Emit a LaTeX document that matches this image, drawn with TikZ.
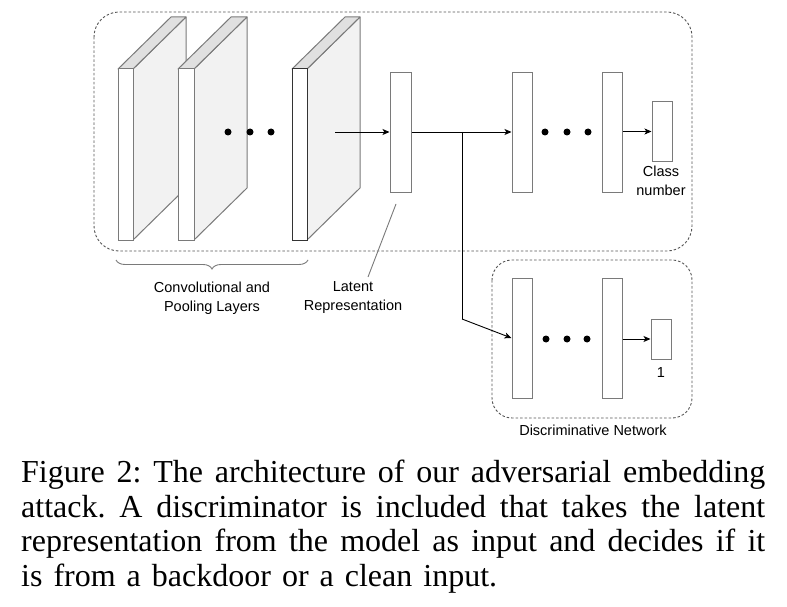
\documentclass[tikz,border=0pt]{standalone}
\usepackage{fontspec}
\setmainfont{Liberation Serif}
\newfontfamily\diagfont{Liberation Sans}
\usetikzlibrary{arrows.meta,decorations.pathreplacing}
\definecolor{boxgray}{HTML}{7A7A7A}
\definecolor{topgray}{HTML}{E0E0E0}
\definecolor{sidegray}{HTML}{F2F2F2}
\definecolor{dashgray}{HTML}{555555}
\tikzset{
  layerbox/.style={draw=boxgray, fill=white, line width=1pt, inner sep=0pt, rectangle},
  sideface/.style={draw=boxgray, fill=sidegray, line width=1pt, line join=round},
  topface/.style={draw=boxgray, fill=topgray, line width=1pt, line join=round},
  conn/.style={draw=black, line width=0.9pt, -{Stealth[length=7pt,width=6pt,inset=1.8pt]}},
  plainline/.style={draw=black, line width=0.9pt},
  group/.style={draw=dashgray, line width=0.9pt, dash pattern=on 2.5pt off 2pt},
  dot/.style={circle, fill=black, inner sep=0pt, minimum size=7pt},
  lbl/.style={font=\diagfont\fontsize{14.5}{18}\selectfont, align=center, inner sep=0pt},
}
\begin{document}
\begin{tikzpicture}[x=1pt,y=-1pt]
\useasboundingbox[fill=white] (0,0) rectangle (787,607);

% group boxes
\draw[group, rounded corners=25pt] (94,12) rectangle (692,251);
\draw[group, rounded corners=20pt] (492,260) rectangle (692,418);

% plate 1
\draw[sideface] (133,69) -- (186,17) -- (186,188) -- (133,240) -- cycle;
\draw[topface] (118,69) -- (133,69) -- (186,17) -- (171,17) -- cycle;
\node[layerbox, minimum width=15pt, minimum height=171pt] (p1) at (125.5,154.5) {};
% plate 2
\draw[sideface] (194,69) -- (247,17) -- (247,188) -- (194,240) -- cycle;
\draw[topface] (178,69) -- (194,69) -- (247,17) -- (231,17) -- cycle;
\node[layerbox, minimum width=16pt, minimum height=171pt] (p2) at (186,154.5) {};
% plate 3
\draw[sideface] (307,69) -- (360,17) -- (360,188) -- (307,240) -- cycle;
\draw[topface] (292,69) -- (307,69) -- (360,17) -- (345,17) -- cycle;
\node[layerbox, draw=black!80, minimum width=15pt, minimum height=171pt] (p3) at (299.5,154.5) {};

% dots between plates
\node[dot] (d11) at (228,132) {};
\node[dot] (d12) at (250,132) {};
\node[dot] (d13) at (271,132) {};

% latent and classifier layers
\node[layerbox, minimum width=21pt, minimum height=119pt] (lat) at (400.5,132.5) {};
\node[layerbox, minimum width=20pt, minimum height=119pt] (a1) at (522,132.5) {};
\node[dot] (d21) at (545,132) {};
\node[dot] (d22) at (567,132) {};
\node[dot] (d23) at (588,132) {};
\node[layerbox, minimum width=20pt, minimum height=119pt] (a2) at (612,132.5) {};
\node[layerbox, minimum width=20pt, minimum height=59pt] (cls) at (662,131.5) {};
\node[lbl, anchor=north] (clstxt) at (661,166) {Class\\[1pt]number};

% discriminator layers
\node[layerbox, minimum width=20pt, minimum height=120pt] (b1) at (522,338) {};
\node[dot] (d31) at (546,339) {};
\node[dot] (d32) at (567,339) {};
\node[dot] (d33) at (587,339) {};
\node[layerbox, minimum width=20pt, minimum height=120pt] (b2) at (612,338) {};
\node[layerbox, minimum width=20pt, minimum height=40pt] (one) at (661,339) {};
\node[lbl] (onetxt) at (661,373) {1};
\node[lbl] (disctxt) at (593,430) {Discriminative Network};

% connectors
\coordinate (c0) at (335,132);
\coordinate (br) at (462,132);
\coordinate (bend) at (462,319);
\draw[conn] (c0) -- (lat.west |- c0);
\draw[conn] (lat.east |- br) -- (a1.west |- br);
\draw[plainline] (br) -- (bend);
\draw[conn] (bend) -- (b1.west);
\draw[conn] (a2.east |- cls.west) -- (cls.west);
\draw[conn] (b2.east |- one.west) -- (one.west);

% brace and labels
\draw[draw=boxgray, line width=0.9pt, decorate, decoration={brace, amplitude=9pt}] (308,260) -- (116,260);
\node[lbl] (convtxt) at (212,298) {Convolutional and\\[1pt]Pooling Layers};
\node[lbl] (lattxt) at (353,298) {Latent\\[1pt]Representation};
\coordinate (l1) at (396,204);
\coordinate (l2) at (368,277);
\draw[draw=boxgray, line width=0.9pt] (l1) -- (l2);

% caption
\node[anchor=north west, inner sep=0pt, text width=744pt, align=justify,
      font=\fontsize{32}{34.5}\selectfont] (cap) at (21,460)
{\frenchspacing\spaceskip=11pt plus 8pt minus 3pt
Figure 2: The architecture of our adversarial embedding\linebreak
attack. A discriminator is included that takes the latent\linebreak
representation from the model as input and decides if it\linebreak
is from a backdoor or a clean input.};
\end{tikzpicture}
\end{document}
